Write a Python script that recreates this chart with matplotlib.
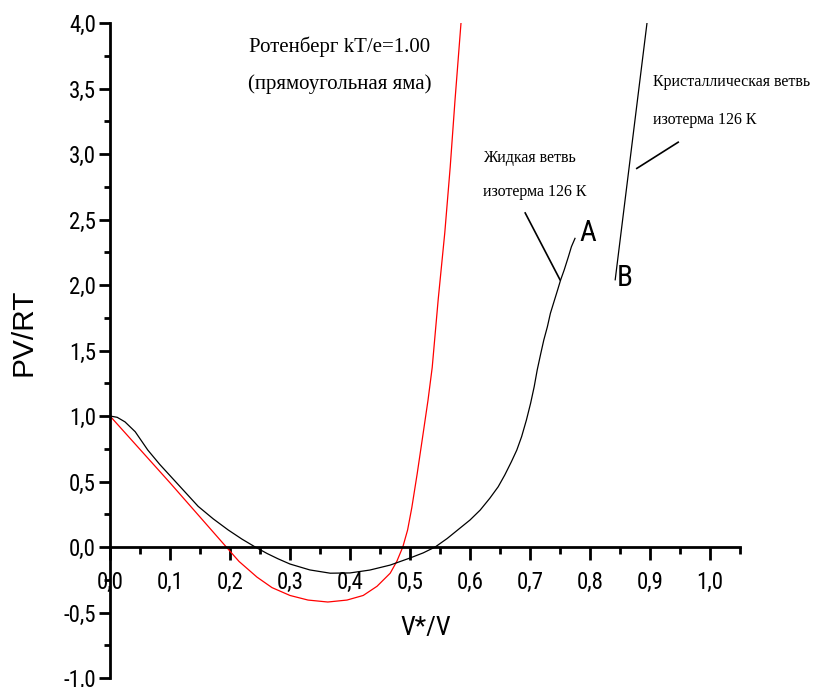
import numpy as np
import matplotlib as mpl
mpl.use('Agg')
import matplotlib.pyplot as plt
from matplotlib.ticker import MultipleLocator, FuncFormatter

# liquid branch, isotherm 126 K (black)
liq_x = [0.0, 0.012, 0.025, 0.042, 0.063, 0.083, 0.103, 0.125, 0.147, 0.172, 0.197, 0.22, 0.242, 0.262,
         0.28, 0.30, 0.333, 0.367, 0.40, 0.433, 0.467, 0.5, 0.522, 0.542, 0.562, 0.583, 0.60, 0.617,
         0.633, 0.647, 0.658, 0.669, 0.678, 0.686, 0.694, 0.701, 0.707, 0.712, 0.718, 0.723, 0.729,
         0.734, 0.740, 0.746, 0.751, 0.757, 0.764, 0.769, 0.775]
liq_y = [1.0, 0.99, 0.955, 0.88, 0.74, 0.63, 0.53, 0.42, 0.31, 0.215, 0.13, 0.06, 0.0, -0.05,
         -0.09, -0.13, -0.175, -0.2, -0.198, -0.176, -0.138, -0.084, -0.045, 0.0, 0.065, 0.143, 0.206, 0.282,
         0.372, 0.46, 0.55, 0.651, 0.74, 0.842, 0.969, 1.097, 1.224, 1.351, 1.478, 1.58, 1.682,
         1.784, 1.873, 1.962, 2.038, 2.115, 2.216, 2.292, 2.356]

# Rotenberg, square well, kT/e=1.00 (red)
rot_x = [0.0, 0.1, 0.19, 0.215, 0.245, 0.27, 0.3, 0.33, 0.363, 0.395, 0.422, 0.445, 0.467, 0.478,
         0.488, 0.496, 0.503, 0.512, 0.522, 0.53, 0.537, 0.547, 0.558, 0.567, 0.575, 0.585]
rot_y = [1.0, 0.49, 0.02, -0.11, -0.23, -0.31, -0.37, -0.405, -0.42, -0.405, -0.37, -0.3, -0.2, -0.11,
         0.0, 0.13, 0.3, 0.56, 0.87, 1.12, 1.37, 1.89, 2.4, 2.9, 3.41, 4.0]

# crystal branch, isotherm 126 K (black, straight segment)
cry_x = [0.842, 0.895]
cry_y = [2.04, 4.0]

# leader lines for the branch labels
lead_liq_x = [0.692, 0.75]
lead_liq_y = [2.55, 2.04]
lead_cry_x = [0.947, 0.878]
lead_cry_y = [3.09, 2.89]

narrow = ['Roboto Condensed', 'DejaVu Sans']
serif = ['Liberation Serif', 'DejaVu Serif']

W, H = 816, 687
fig = plt.figure(figsize=(W / 100, H / 100), dpi=100)
ax = fig.add_axes([110 / W, 1 - 678 / H, 630 / W, (678 - 23) / H])

ax.plot(rot_x, rot_y, color='red', lw=0.9)
ax.plot(liq_x, liq_y, color='black', lw=0.9)
ax.plot(cry_x, cry_y, color='black', lw=0.9)
ax.plot(lead_liq_x, lead_liq_y, color='black', lw=1.2)
ax.plot(lead_cry_x, lead_cry_y, color='black', lw=1.2)

ax.set_xlim(0, 1.05)
ax.set_ylim(-1, 4)

for s in ['top', 'right']:
    ax.spines[s].set_visible(False)
ax.spines['bottom'].set_position(('data', 0))
ax.spines['bottom'].set_linewidth(2)
ax.spines['left'].set_linewidth(2)

ax.xaxis.set_major_locator(MultipleLocator(0.1))
ax.xaxis.set_minor_locator(MultipleLocator(0.05))
ax.yaxis.set_major_locator(MultipleLocator(0.5))
ax.yaxis.set_minor_locator(MultipleLocator(0.25))
comma = FuncFormatter(lambda v, p: f"{v:.1f}".replace('.', ','))
ax.xaxis.set_major_formatter(comma)
ax.yaxis.set_major_formatter(comma)

ax.tick_params(axis='x', which='major', direction='out', length=9, width=2, pad=8)
ax.tick_params(axis='x', which='minor', direction='out', length=5, width=2)
ax.tick_params(axis='y', which='major', direction='out', length=8, width=2, pad=2)
ax.tick_params(axis='y', which='minor', direction='out', length=4, width=2)
for lab in ax.get_xticklabels() + ax.get_yticklabels():
    lab.set_family(narrow)
    lab.set_fontsize(16.5)

ax.text(0.527, -0.62, 'V*/V', family=narrow, fontsize=19, ha='center', va='center')
ax.text(-0.145, 1.64, 'PV/RT', family=['Liberation Sans', 'DejaVu Sans'], fontsize=21.5,
        rotation=90, ha='center', va='center')

ax.text(0.383, 3.82, 'Ротенберг kT/e=1.00', family=serif, fontsize=15, ha='center', va='center')
ax.text(0.383, 3.53, '(прямоугольная яма)', family=serif, fontsize=15, ha='center', va='center')

ax.text(0.622, 2.97, 'Жидкая ветвь', family=serif, fontsize=11.5, ha='left', va='center')
ax.text(0.622, 2.71, 'изотерма 126 К', family=serif, fontsize=11.5, ha='left', va='center')
ax.text(0.905, 3.55, 'Кристаллическая ветвь', family=serif, fontsize=11.5, ha='left', va='center')
ax.text(0.905, 3.26, 'изотерма 126 К', family=serif, fontsize=11.5, ha='left', va='center')

ax.text(0.797, 2.40, 'A', family=narrow, fontsize=21, ha='center', va='center')
ax.text(0.858, 2.05, 'B', family=narrow, fontsize=21, ha='center', va='center')

fig.savefig('out.png', dpi=100)
